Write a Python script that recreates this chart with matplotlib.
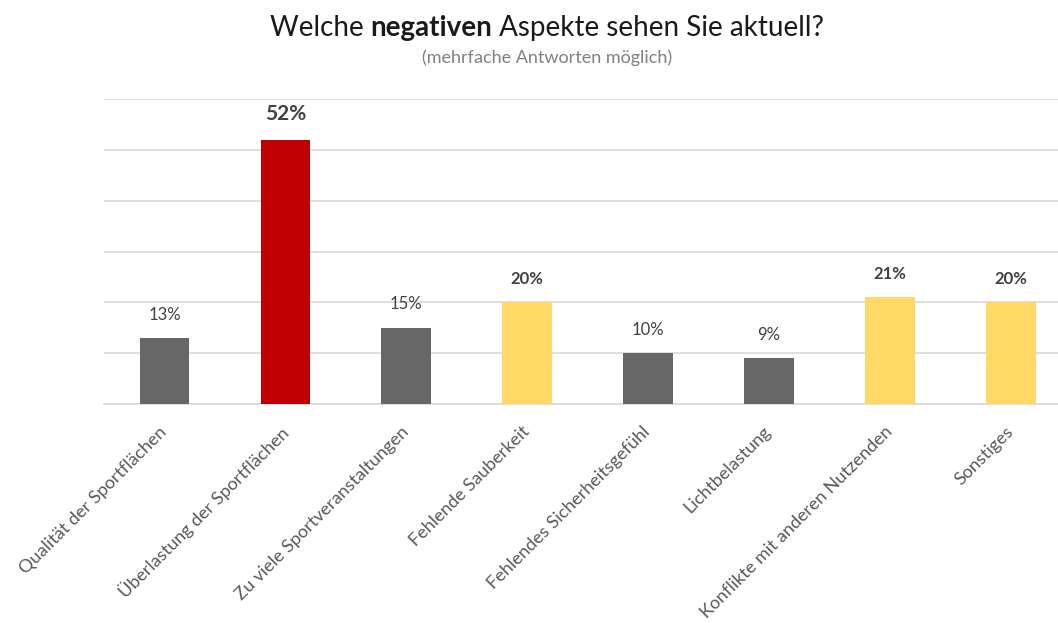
import matplotlib
matplotlib.use("Agg")
import matplotlib.pyplot as plt
import matplotlib.transforms as mtransforms

categories = [
    "Qualität der Sportflächen",
    "Überlastung der Sportflächen",
    "Zu viele Sportveranstaltungen",
    "Fehlende Sauberkeit",
    "Fehlendes Sicherheitsgefühl",
    "Lichtbelastung",
    "Konflikte mit anderen Nutzenden",
    "Sonstiges",
]
values = [13, 52, 15, 20, 10, 9, 21, 20]
value_labels = ["13%", "52%", "15%", "20%", "10%", "9%", "21%", "20%"]
colors = ["#676767", "#C00000", "#676767", "#FFD966", "#676767", "#676767", "#FFD966", "#FFD966"]
bold_labels = [False, True, False, True, False, False, True, True]
title_parts = ["Welche ", "negativen", " Aspekte sehen Sie aktuell?"]
title_weights = ["normal", "bold", "normal"]
subtitle = "(mehrfache Antworten möglich)"

plt.rcParams['font.family'] = ['Lato', 'DejaVu Sans']

fig = plt.figure(figsize=(10.58, 6.23), dpi=100)
ax = fig.add_axes([104/1058, (623-404)/623, 1 - 104/1058, (404-99)/623])

x = list(range(len(categories)))
ax.bar(x, values, width=0.41, color=colors, zorder=3)

ax.set_ylim(0, 60)
ax.set_yticks(range(0, 61, 10))
ax.set_xlim(-0.5, 7.39)
ax.yaxis.grid(True, color="#D9D9D9", linewidth=1.2, zorder=0)
ax.tick_params(axis='y', left=False, labelleft=False)
ax.tick_params(axis='x', bottom=False)
for s in ["top", "right", "left"]:
    ax.spines[s].set_visible(False)
ax.spines["bottom"].set_color("#D9D9D9")
ax.spines["bottom"].set_linewidth(1.2)

ax.set_xticks(x)
ax.set_xticklabels(categories, rotation=45, ha='right', rotation_mode='anchor',
                   fontsize=13, color="#595959")
ax.tick_params(axis='x', pad=12)
offset = mtransforms.ScaledTranslation(-6/100, 2/100, fig.dpi_scale_trans)
for lbl in ax.get_xticklabels():
    lbl.set_transform(lbl.get_transform() + offset)

for xi, v, lab, b in zip(x, values, value_labels, bold_labels):
    big = (v == max(values))
    ax.annotate(lab, (xi, v), xytext=(0, 11), textcoords='offset points',
                ha='center', va='bottom', fontsize=15 if big else 12,
                fontweight='bold' if b else 'normal', color="#404040")

# Title assembled from parts (bold middle word)
fig.canvas.draw()
renderer = fig.canvas.get_renderer()
texts = []
for part, w in zip(title_parts, title_weights):
    t = fig.text(0, 0.955, part, ha='left', va='center', fontsize=20,
                 fontweight=w, color="#1a1a1a")
    texts.append(t)
widths = [t.get_window_extent(renderer).width for t in texts]
total = sum(widths)
start = 0.517 * fig.bbox.width - total / 2
for t, wdt in zip(texts, widths):
    t.set_x(start / fig.bbox.width)
    start += wdt

fig.text(0.517, 0.907, subtitle, ha='center', va='center',
         fontsize=13, color="#808080")

fig.savefig("out.png", dpi=100)
